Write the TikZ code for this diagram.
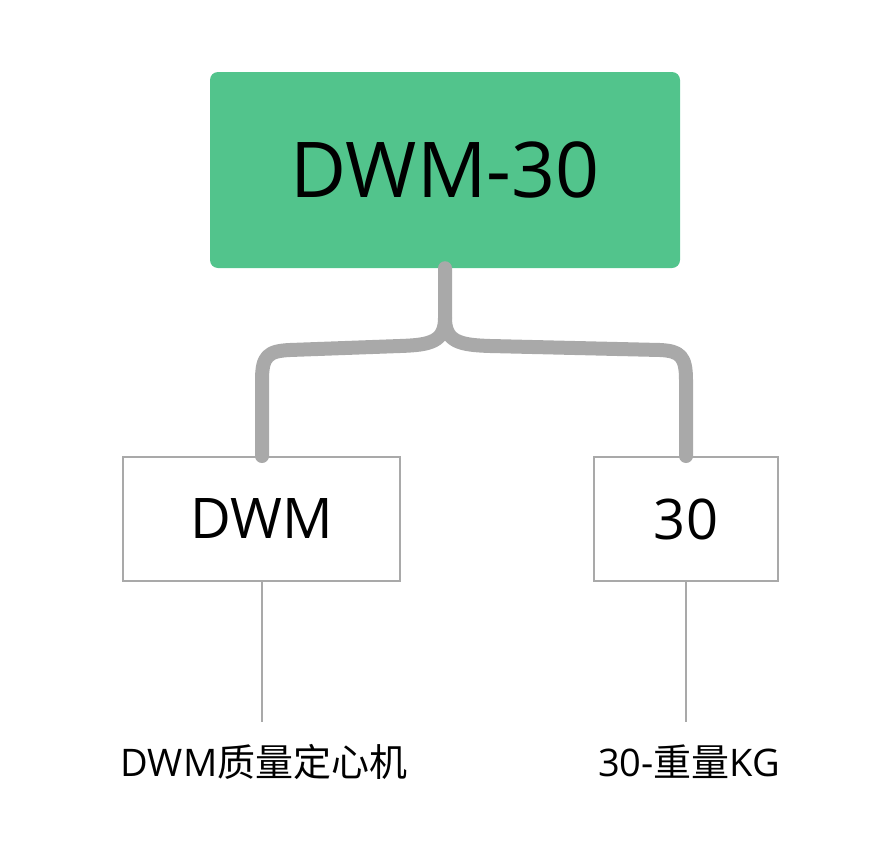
\documentclass[tikz,border=0pt]{standalone}
\usepackage{fontspec}
\setmainfont{Open Sans}
\newfontfamily\cjk{Noto Sans CJK SC}
\usetikzlibrary{positioning}
\definecolor{topgreen}{HTML}{52C48C}
\definecolor{linkgray}{HTML}{A9A9A9}
\tikzset{
  topbox/.style={fill=topgreen, rounded corners=8pt, minimum width=470pt, minimum height=196pt, inner sep=0pt},
  subbox/.style={draw=linkgray, line width=2pt, minimum height=124pt, inner sep=0pt},
  link/.style={draw=linkgray, line width=14pt, line cap=round, line join=round},
  leaf/.style={draw=linkgray, line width=2pt},
}
\begin{document}
\begin{tikzpicture}[x=1pt,y=-1pt]
  \useasboundingbox (0,0) rectangle (888,859);
  \node[topbox] (top) at (445,170) {\fontsize{77}{80}\selectfont DWM-30};
  \node[subbox, minimum width=277pt] (dwm) at (261.5,519) {\fontsize{56}{60}\selectfont DWM};
  \node[subbox, minimum width=184pt] (num) at (686,519) {\fontsize{56}{60}\selectfont 30};
  % connectors
  \coordinate (fork) at (445,318);
  \draw[link] (top.south) -- (fork)
     .. controls (445,342) and (430,345) .. (400,346) -- (290,350)
     .. controls (268,351) and (262,356) .. (262,380) -- (dwm.north -| 262,0);
  \draw[link] (fork)
     .. controls (445,342) and (460,345) .. (490,346) -- (660,350)
     .. controls (680,351) and (686,356) .. (686,380) -- (num.north);
  % leaves
  \node (dwmtxt) at (264,762) {\fontsize{38}{40}\selectfont DWM{\cjk 质量定心机}};
  \node (numtxt) at (689,762) {\fontsize{38}{40}\selectfont 30-{\cjk 重量}KG};
  \draw[leaf] (dwm.south -| 262,0) -- (262,722);
  \draw[leaf] (num.south) -- (686,722);
\end{tikzpicture}
\end{document}
